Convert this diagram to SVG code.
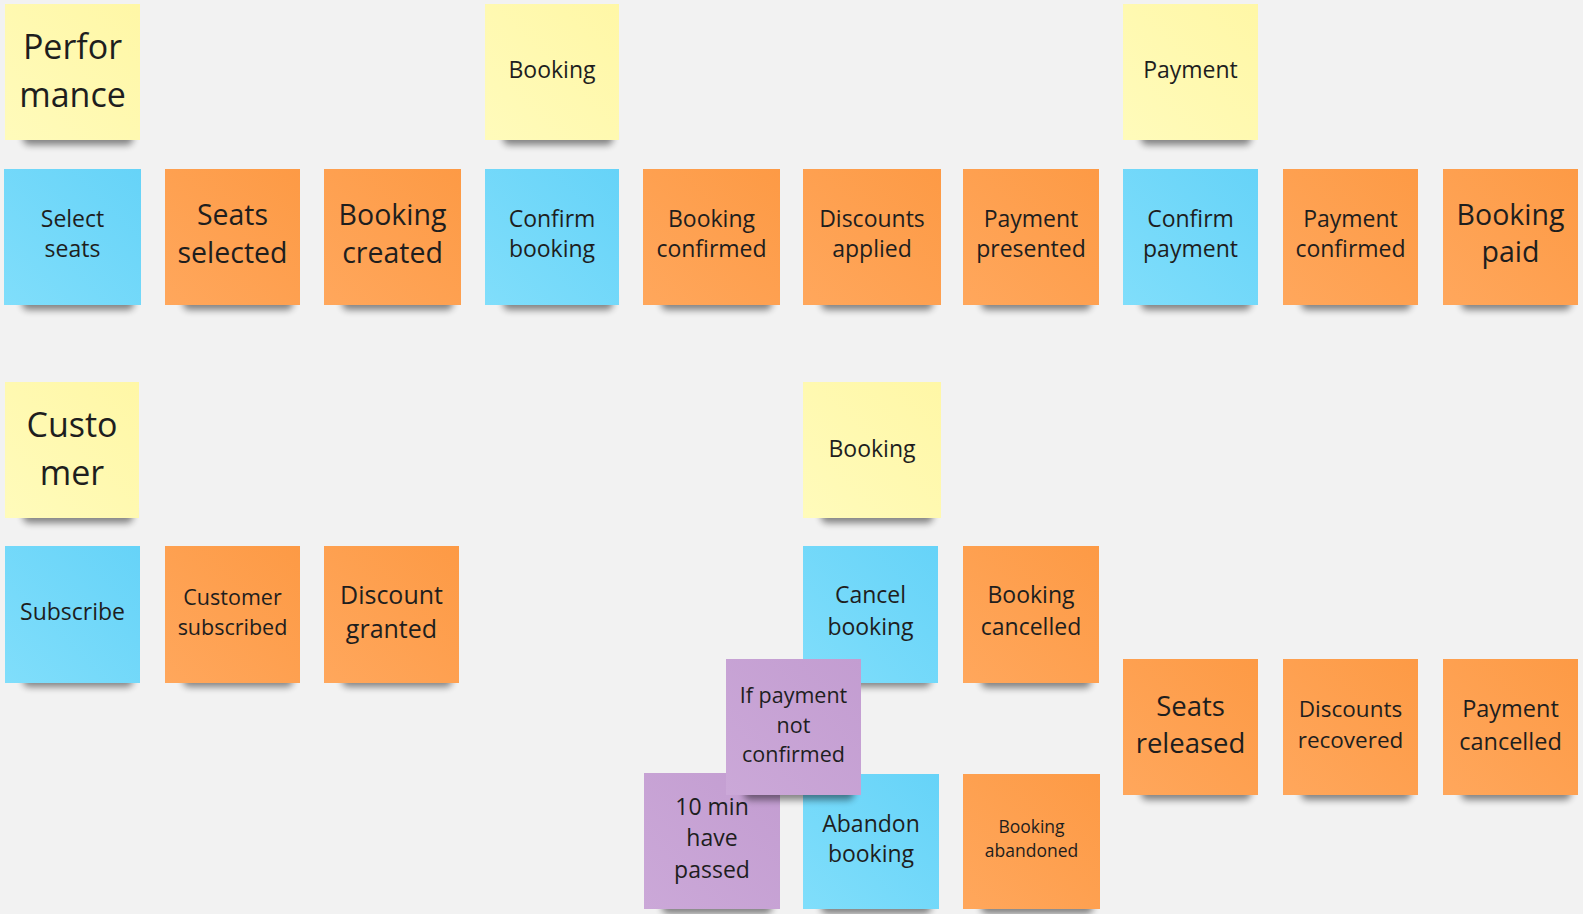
<svg xmlns="http://www.w3.org/2000/svg" width="1583" height="914" viewBox="0 0 1583 914">
<defs>
<linearGradient id="gy" x1="1" y1="0" x2="0" y2="1"><stop offset="0" stop-color="#fff7a6"/><stop offset="1" stop-color="#fffbbb"/></linearGradient>
<linearGradient id="gb" x1="1" y1="0" x2="0" y2="1"><stop offset="0" stop-color="#66d3f8"/><stop offset="1" stop-color="#80defb"/></linearGradient>
<linearGradient id="go" x1="1" y1="0" x2="0" y2="1"><stop offset="0" stop-color="#fd9a45"/><stop offset="1" stop-color="#ffa75c"/></linearGradient>
<linearGradient id="gp" x1="1" y1="0" x2="0" y2="1"><stop offset="0" stop-color="#c39dd1"/><stop offset="1" stop-color="#cba8d8"/></linearGradient>
<filter id="blur" x="-20%" y="-100%" width="140%" height="300%"><feGaussianBlur stdDeviation="3.5"/></filter>
</defs>
<style>
.bg{fill:#f2f2f2}
.sh{fill:#000;opacity:0.46;filter:url(#blur)}
.y{fill:url(#gy)}
.b{fill:url(#gb)}
.o{fill:url(#go)}
.p{fill:url(#gp)}
text{font-family:"Open Sans","Noto Sans","Liberation Sans",sans-serif;fill:#1e1e1e;text-anchor:middle}
</style>
<rect class="bg" x="0" y="0" width="1583" height="914"/>
<g id="connectors"/>

<g id="n-performance"><rect class="sh" x="23" y="128" width="110" height="17" rx="6"/><rect class="y" x="5" y="4" width="135" height="136"/><text font-size="34" x="72.5" y="59">Perfor</text><text font-size="34" x="72.5" y="107">mance</text></g>
<g id="n-booking-top"><rect class="sh" x="503" y="128" width="110" height="17" rx="6"/><rect class="y" x="485" y="4" width="134" height="136"/><text font-size="23" x="552" y="78">Booking</text></g>
<g id="n-payment-top"><rect class="sh" x="1141" y="128" width="110" height="17" rx="6"/><rect class="y" x="1123" y="4" width="135" height="136"/><text font-size="23" x="1190.5" y="78">Payment</text></g>

<g id="n-select-seats"><rect class="sh" x="22" y="293" width="112" height="17" rx="6"/><rect class="b" x="4" y="169" width="137" height="136"/><text font-size="23" x="72.5" y="227">Select</text><text font-size="23" x="72.5" y="257">seats</text></g>
<g id="n-seats-selected"><rect class="sh" x="183" y="293" width="110" height="17" rx="6"/><rect class="o" x="165" y="169" width="135" height="136"/><text font-size="28.5" x="232.5" y="225">Seats</text><text font-size="28.5" x="232.5" y="263">selected</text></g>
<g id="n-booking-created"><rect class="sh" x="342" y="293" width="111" height="17" rx="6"/><rect class="o" x="324" y="169" width="137" height="136"/><text font-size="28.5" x="392.5" y="225">Booking</text><text font-size="28.5" x="392.5" y="263">created</text></g>
<g id="n-confirm-booking"><rect class="sh" x="503" y="293" width="110" height="17" rx="6"/><rect class="b" x="485" y="169" width="134" height="136"/><text font-size="23" x="552" y="227">Confirm</text><text font-size="23" x="552" y="257">booking</text></g>
<g id="n-booking-confirmed"><rect class="sh" x="661" y="293" width="111" height="17" rx="6"/><rect class="o" x="643" y="169" width="137" height="136"/><text font-size="23" x="711.5" y="227">Booking</text><text font-size="23" x="711.5" y="257">confirmed</text></g>
<g id="n-discounts-applied"><rect class="sh" x="821" y="293" width="112" height="17" rx="6"/><rect class="o" x="803" y="169" width="138" height="136"/><text font-size="23" x="872" y="227">Discounts</text><text font-size="23" x="872" y="257">applied</text></g>
<g id="n-payment-presented"><rect class="sh" x="981" y="293" width="110" height="17" rx="6"/><rect class="o" x="963" y="169" width="136" height="136"/><text font-size="23" x="1031" y="227">Payment</text><text font-size="23" x="1031" y="257">presented</text></g>
<g id="n-confirm-payment"><rect class="sh" x="1141" y="293" width="110" height="17" rx="6"/><rect class="b" x="1123" y="169" width="135" height="136"/><text font-size="23" x="1190.5" y="227">Confirm</text><text font-size="23" x="1190.5" y="257">payment</text></g>
<g id="n-payment-confirmed"><rect class="sh" x="1301" y="293" width="110" height="17" rx="6"/><rect class="o" x="1283" y="169" width="135" height="136"/><text font-size="23" x="1350.5" y="227">Payment</text><text font-size="23" x="1350.5" y="257">confirmed</text></g>
<g id="n-booking-paid"><rect class="sh" x="1461" y="293" width="110" height="17" rx="6"/><rect class="o" x="1443" y="169" width="135" height="136"/><text font-size="28.5" x="1510.5" y="225">Booking</text><text font-size="28.5" x="1510.5" y="262">paid</text></g>

<g id="n-customer"><rect class="sh" x="23" y="506" width="110" height="17" rx="6"/><rect class="y" x="5" y="382" width="134" height="136"/><text font-size="34" x="72" y="437">Custo</text><text font-size="34" x="72" y="485">mer</text></g>
<g id="n-booking-mid"><rect class="sh" x="821" y="506" width="112" height="17" rx="6"/><rect class="y" x="803" y="382" width="138" height="136"/><text font-size="23" x="872" y="457">Booking</text></g>

<g id="n-subscribe"><rect class="sh" x="23" y="670" width="110" height="17" rx="6"/><rect class="b" x="5" y="546" width="135" height="137"/><text font-size="23" x="72.5" y="620">Subscribe</text></g>
<g id="n-customer-subscribed"><rect class="sh" x="183" y="670" width="110" height="17" rx="6"/><rect class="o" x="165" y="546" width="135" height="137"/><text font-size="21.5" x="232.5" y="605">Customer</text><text font-size="21.5" x="232.5" y="635">subscribed</text></g>
<g id="n-discount-granted"><rect class="sh" x="342" y="670" width="110" height="17" rx="6"/><rect class="o" x="324" y="546" width="135" height="137"/><text font-size="25" x="391.5" y="604">Discount</text><text font-size="25" x="391.5" y="638">granted</text></g>
<g id="n-cancel-booking"><rect class="sh" x="821" y="670" width="110" height="17" rx="6"/><rect class="b" x="803" y="546" width="135" height="137"/><text font-size="23" x="870.5" y="603">Cancel</text><text font-size="23" x="870.5" y="635">booking</text></g>
<g id="n-booking-cancelled"><rect class="sh" x="981" y="671" width="110" height="17" rx="6"/><rect class="o" x="963" y="546" width="136" height="137"/><text font-size="23" x="1031" y="603">Booking</text><text font-size="23" x="1031" y="635">cancelled</text></g>

<g id="n-seats-released"><rect class="sh" x="1141" y="783" width="110" height="17" rx="6"/><rect class="o" x="1123" y="659" width="135" height="136"/><text font-size="27.5" x="1190.5" y="716">Seats</text><text font-size="27.5" x="1190.5" y="753">released</text></g>
<g id="n-discounts-recovered"><rect class="sh" x="1301" y="783" width="110" height="17" rx="6"/><rect class="o" x="1283" y="659" width="135" height="136"/><text font-size="22.5" x="1350.5" y="717">Discounts</text><text font-size="22.5" x="1350.5" y="748">recovered</text></g>
<g id="n-payment-cancelled"><rect class="sh" x="1461" y="783" width="110" height="17" rx="6"/><rect class="o" x="1443" y="659" width="135" height="136"/><text font-size="23.5" x="1510.5" y="717">Payment</text><text font-size="23.5" x="1510.5" y="750">cancelled</text></g>

<g id="n-10-min"><rect class="sh" x="662" y="897" width="110" height="17" rx="6"/><rect class="p" x="644" y="773" width="136" height="136"/><text font-size="23" x="712" y="815">10 min</text><text font-size="23" x="712" y="846">have</text><text font-size="23" x="712" y="878">passed</text></g>
<g id="n-abandon-booking"><rect class="sh" x="821" y="897" width="110" height="17" rx="6"/><rect class="b" x="803" y="774" width="136" height="135"/><text font-size="23" x="871" y="832">Abandon</text><text font-size="23" x="871" y="862">booking</text></g>
<g id="n-booking-abandoned"><rect class="sh" x="981" y="897" width="112" height="17" rx="6"/><rect class="o" x="963" y="774" width="137" height="135"/><text font-size="17.5" x="1031.5" y="833">Booking</text><text font-size="17.5" x="1031.5" y="857">abandoned</text></g>
<g id="n-if-payment"><rect class="sh" x="744" y="783" width="110" height="17" rx="6"/><rect class="p" x="726" y="659" width="135" height="136"/><text font-size="21.5" x="793.5" y="703">If payment</text><text font-size="21.5" x="793.5" y="733">not</text><text font-size="21.5" x="793.5" y="762">confirmed</text></g>
</svg>
